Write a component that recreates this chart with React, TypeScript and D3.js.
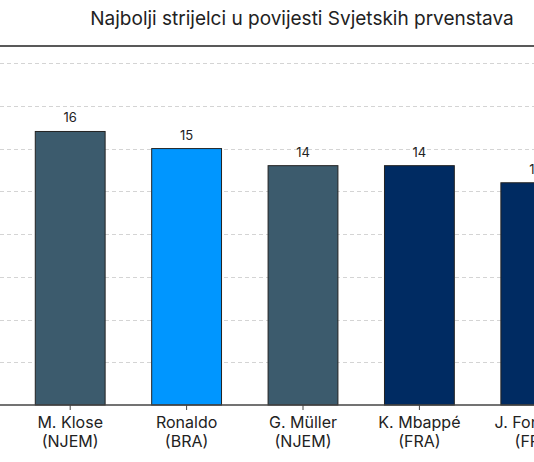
import React, { useEffect, useRef } from "react";
import * as d3 from "d3";

const width = 534;
const height = 462;
const margin = { top: 46, bottom: 405 };

const players = ["M. Klose", "Ronaldo", "G. Müller", "K. Mbappé", "J. Fontaine"];
const countries = ["NJEM", "BRA", "NJEM", "FRA", "FRA"];
const goals = [16, 15, 14, 14, 13];
const colors = ["#3c5b6d", "#0096ff", "#3c5b6d", "#002b62", "#002b62"];
const gridTicks = [2.5, 5, 7.5, 10, 12.5, 15, 17.5, 20];

export default function App() {
  const ref = useRef<SVGSVGElement>(null);

  useEffect(() => {
    const svg = d3.select(ref.current);
    svg.selectAll("*").remove();

    const data = players.map((name, i) => ({
      name,
      country: countries[i],
      value: goals[i],
      color: colors[i],
    }));

    const x = d3
      .scaleBand()
      .domain(players)
      .range([12, 594])
      .paddingInner(0.4)
      .paddingOuter(0.2);

    const y = d3.scaleLinear().domain([0, 21]).range([margin.bottom, margin.top]);

    // title
    svg
      .append("text")
      .attr("x", 302)
      .attr("y", 25)
      .attr("text-anchor", "middle")
      .attr("font-size", 19)
      .attr("fill", "#222")
      .text("Najbolji strijelci u povijesti Svjetskih prvenstava");

    // dashed gridlines
    svg
      .append("g")
      .selectAll("line")
      .data(gridTicks)
      .join("line")
      .attr("x1", 0)
      .attr("x2", width)
      .attr("y1", d => Math.round(y(d)) + 0.5)
      .attr("y2", d => Math.round(y(d)) + 0.5)
      .attr("stroke", "#d4d4d4")
      .attr("stroke-dasharray", "4,3");

    // top frame line
    svg
      .append("line")
      .attr("x1", 0)
      .attr("x2", width)
      .attr("y1", y(21))
      .attr("y2", y(21))
      .attr("stroke", "#222")
      .attr("stroke-width", 1.3);

    // bars
    svg
      .append("g")
      .selectAll("rect")
      .data(data)
      .join("rect")
      .attr("x", d => x(d.name)!)
      .attr("y", d => y(d.value))
      .attr("width", x.bandwidth())
      .attr("height", d => y(0) - y(d.value))
      .attr("fill", d => d.color)
      .attr("stroke", "#222")
      .attr("stroke-width", 1);

    // value labels
    svg
      .append("g")
      .selectAll("text")
      .data(data)
      .join("text")
      .attr("x", d => x(d.name)! + x.bandwidth() / 2)
      .attr("y", d => y(d.value) - 9)
      .attr("text-anchor", "middle")
      .attr("font-size", 13)
      .attr("fill", "#222")
      .text(d => d.value);

    // x axis
    const axis = svg.append("g").attr("transform", `translate(0,${y(0)})`);
    axis
      .append("line")
      .attr("x1", 0)
      .attr("x2", width)
      .attr("stroke", "#444")
      .attr("stroke-width", 1.3);

    const ticks = axis
      .selectAll("g.tick")
      .data(data)
      .join("g")
      .attr("class", "tick")
      .attr("transform", d => `translate(${x(d.name)! + x.bandwidth() / 2},0)`);

    ticks.append("line").attr("y2", 5).attr("stroke", "#444");
    ticks
      .append("text")
      .attr("y", 23)
      .attr("text-anchor", "middle")
      .attr("font-size", 16)
      .attr("fill", "#222")
      .text(d => d.name);
    ticks
      .append("text")
      .attr("y", 42)
      .attr("text-anchor", "middle")
      .attr("font-size", 16)
      .attr("fill", "#222")
      .text(d => `(${d.country})`);
  }, []);

  return (
    <svg
      ref={ref}
      width={width}
      height={height}
      style={{
        position: "absolute",
        left: 0,
        top: 0,
        fontFamily: "Inter, 'Noto Sans', sans-serif",
        background: "#fff",
      }}
    />
  );
}
